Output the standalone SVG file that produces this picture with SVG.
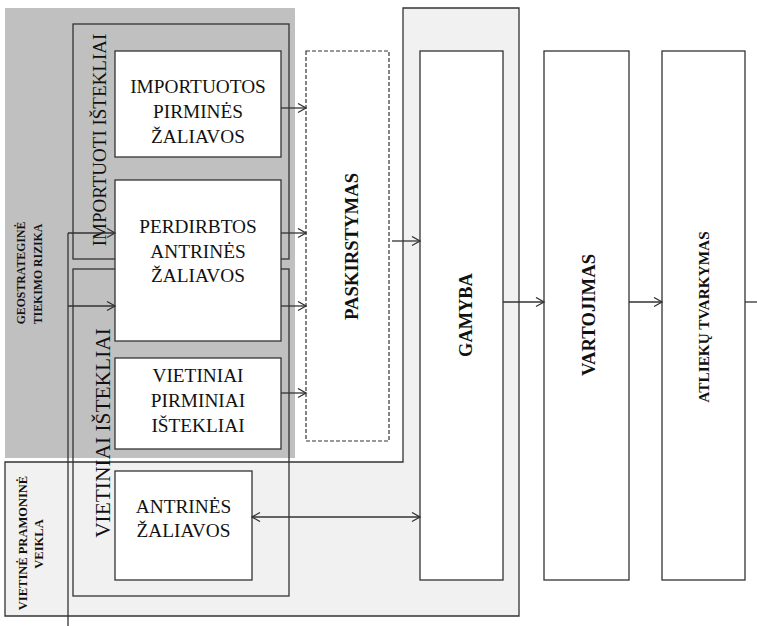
<svg xmlns="http://www.w3.org/2000/svg" width="757" height="626" viewBox="0 0 757 626">
<style>
.box{fill:#fff;stroke:#333;stroke-width:1.3}
.frame{fill:none;stroke:#333;stroke-width:1.3}
.t{font-family:"Liberation Serif","Times New Roman",serif;fill:#111;text-anchor:middle}
.h{font-size:19.3px}
.b{font-weight:bold}
.c line,.c path{stroke:#333;stroke-width:1.3;fill:none}
</style>
<defs>
<marker id="ar" markerUnits="userSpaceOnUse" markerWidth="12" markerHeight="12" refX="9" refY="5" orient="auto-start-reverse">
<path d="M1,0.5 L9,5 L1,9.5" fill="none" stroke="#333" stroke-width="1.3"/>
</marker>
</defs>
<g id="background">
<path d="M5,462 L403,462 L403,8 L519,8 L519,616 L5,616 Z" fill="#f1f1f1" stroke="#333" stroke-width="1.3"/>
<rect x="5" y="8" width="290" height="450" fill="#c0c0c0"/>
<text class="t b" font-size="11.8" transform="translate(25,273) rotate(-90)">GEOSTRATEGINĖ</text>
<text class="t b" font-size="11.8" transform="translate(42,274) rotate(-90)">TIEKIMO RIZIKA</text>
<text class="t b" font-size="12.5" transform="translate(27,543) rotate(-90)">VIETINĖ PRAMONINĖ</text>
<text class="t b" font-size="12.5" transform="translate(43,544) rotate(-90)">VEIKLA</text>
</g>
<g id="importuoti">
<rect class="frame" x="73" y="24" width="216" height="235"/>
<text class="t" font-size="19" transform="translate(106,140) rotate(-90)">IMPORTUOTI IŠTEKLIAI</text>
</g>
<g id="vietiniai">
<rect class="frame" x="73" y="269" width="216" height="327"/>
<text class="t" font-size="21.4" transform="translate(110,433) rotate(-90)">VIETINIAI IŠTEKLIAI</text>
</g>
<g id="importuotos">
<rect class="box" x="115" y="51" width="166" height="106"/>
<text class="t h" x="198" y="93">IMPORTUOTOS</text>
<text class="t h" x="198" y="118">PIRMINĖS</text>
<text class="t h" x="198" y="143">ŽALIAVOS</text>
</g>
<g id="perdirbtos">
<rect class="box" x="115" y="180" width="166" height="161"/>
<text class="t h" x="198" y="233">PERDIRBTOS</text>
<text class="t h" x="198" y="258">ANTRINĖS</text>
<text class="t h" x="198" y="282">ŽALIAVOS</text>
</g>
<g id="vietiniai-pirminiai">
<rect class="box" x="115" y="358" width="166" height="91"/>
<text class="t h" x="198" y="382">VIETINIAI</text>
<text class="t h" x="198" y="407">PIRMINIAI</text>
<text class="t h" x="198" y="432">IŠTEKLIAI</text>
</g>
<g id="antrines">
<rect class="box" x="115" y="471" width="137" height="109"/>
<text class="t h" x="183.5" y="513">ANTRINĖS</text>
<text class="t h" x="183.5" y="537">ŽALIAVOS</text>
</g>
<g id="paskirstymas">
<rect x="306" y="51" width="83" height="390" fill="#fff" stroke="#333" stroke-width="1.2" stroke-dasharray="4,2"/>
<text class="t b" font-size="18.7" transform="translate(358,246.5) rotate(-90)">PASKIRSTYMAS</text>
</g>
<g id="gamyba">
<rect class="box" x="420" y="51" width="83" height="529"/>
<text class="t b" font-size="18.4" transform="translate(472,315) rotate(-90)">GAMYBA</text>
</g>
<g id="vartojimas">
<rect class="box" x="544" y="51" width="85" height="529"/>
<text class="t b" font-size="18.7" transform="translate(595,315) rotate(-90)">VARTOJIMAS</text>
</g>
<g id="atlieku-tvarkymas">
<rect class="box" x="662" y="51" width="83" height="529"/>
<text class="t b" font-size="15.3" transform="translate(709,317) rotate(-90)">ATLIEKŲ TVARKYMAS</text>
</g>
<g id="connectors" class="c">
<line x1="281" y1="108" x2="306" y2="108" marker-end="url(#ar)"/>
<line x1="281" y1="233" x2="306" y2="233" marker-end="url(#ar)"/>
<line x1="281" y1="306" x2="306" y2="306" marker-end="url(#ar)"/>
<line x1="281" y1="393" x2="306" y2="393" marker-end="url(#ar)"/>
<line x1="392" y1="241" x2="420" y2="241" marker-end="url(#ar)"/>
<line x1="503" y1="302" x2="544" y2="302" marker-end="url(#ar)"/>
<line x1="629" y1="302" x2="662" y2="302" marker-end="url(#ar)"/>
<line x1="745" y1="302" x2="757" y2="302"/>
<line x1="252" y1="517" x2="420" y2="517" marker-start="url(#ar)" marker-end="url(#ar)"/>
<line x1="68" y1="626" x2="68" y2="233"/>
<line x1="68" y1="233" x2="115" y2="233" marker-end="url(#ar)"/>
<line x1="68" y1="306" x2="115" y2="306" marker-end="url(#ar)"/>
</g>
</svg>
